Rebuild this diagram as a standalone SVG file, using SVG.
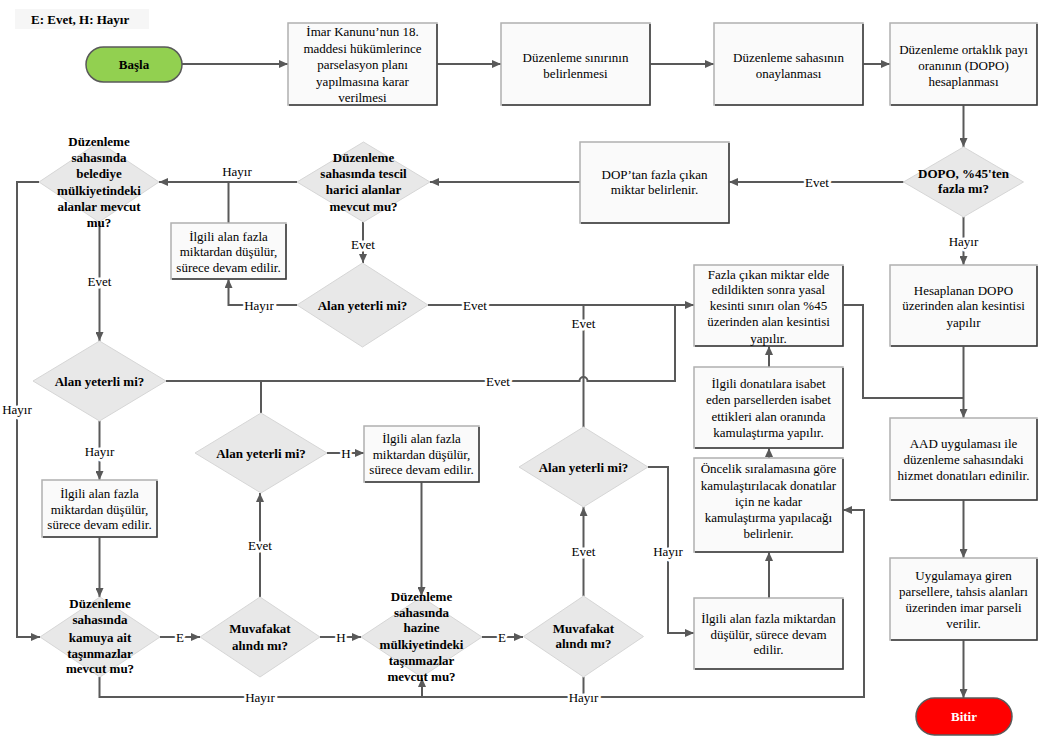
<svg xmlns="http://www.w3.org/2000/svg" width="1047" height="743" viewBox="0 0 1047 743">
<defs>
<marker id="ah" viewBox="0 0 9 8" refX="9" refY="4" markerWidth="9" markerHeight="8" markerUnits="userSpaceOnUse" orient="auto">
<path d="M0,0 L9,4 L0,8 z" fill="#595959"/>
</marker>
<style>
.box{fill:#fafafa;stroke:#b0b0b0;stroke-width:1.5}
.sh{fill:none;stroke:#3a3a3a;stroke-width:1.5}
.dia{fill:#e8e8e8;stroke:#d6d6d6;stroke-width:1}
.ln{fill:none;stroke:#595959;stroke-width:2}
.ar{marker-end:url(#ah)}
.t{font-family:"Liberation Serif","Times New Roman",serif;font-size:13px;fill:#000;text-anchor:middle}
.b{font-weight:bold}
.lbl{paint-order:stroke;stroke:#fff;stroke-width:5px;stroke-linejoin:round}
</style>
</defs>
<rect width="1047" height="743" fill="#fff"/>

<g id="legend">
<rect x="15" y="9" width="134" height="20" fill="#f6f6f6"/>
<text class="t b" x="31" y="24" style="text-anchor:start">E: Evet, H: Hayır</text>
</g>

<g id="connectors">
<path class="ln ar" d="M182 64 H288"/>
<path class="ln ar" d="M437 64 H501"/>
<path class="ln ar" d="M650 64 H714"/>
<path class="ln ar" d="M863 64 H890"/>
<path class="ln ar" d="M963.5 105 V147"/>
<path class="ln ar" d="M903.5 182 H729"/>
<path class="ln ar" d="M580 182 H430"/>
<path class="ln ar" d="M297 182 H159"/>
<path class="ln" d="M228.5 223 V182"/>
<path class="ln ar" d="M297 305 H228.5 V279"/>
<path class="ln ar" d="M363 222 V263"/>
<path class="ln ar" d="M428 305 H694"/>
<path class="ln" d="M583.5 427 V305"/>
<path class="ln" d="M166 381 H579.5 A4 4 0 0 1 587.5 381 H675 V305"/>
<path class="ln" d="M261 381 V413"/>
<path class="ln ar" d="M99.5 222 V341"/>
<path class="ln ar" d="M39 182 H17 V637 H40"/>
<path class="ln ar" d="M99.5 421 V480"/>
<path class="ln ar" d="M99.5 537 V597"/>
<path class="ln ar" d="M160 637 H200"/>
<path class="ln ar" d="M260 597 V493"/>
<path class="ln ar" d="M327 453 H364"/>
<path class="ln ar" d="M421.5 482 V596"/>
<path class="ln ar" d="M320 637 H361"/>
<path class="ln ar" d="M482 637 H523"/>
<path class="ln ar" d="M583.5 596 V507"/>
<path class="ln ar" d="M648 467 H668 V633 H694"/>
<path class="ln ar" d="M769 598 V552"/>
<path class="ln ar" d="M769 458 V448"/>
<path class="ln ar" d="M769 367 V346"/>
<path class="ln" d="M843 305 H863 V398 H963.5"/>
<path class="ln ar" d="M963.5 217 V265"/>
<path class="ln ar" d="M963.5 346 V418"/>
<path class="ln ar" d="M963.5 500 V558"/>
<path class="ln ar" d="M963.5 640 V698"/>
<path class="ln ar" d="M99.5 677 V697 H864 V510 H843"/>
<path class="ln ar" d="M422 697 V678"/>
<path class="ln" d="M583.5 677 V697"/>

<text class="t lbl" x="817" y="186.5">Evet</text>
<text class="t" x="237" y="176">Hayır</text>
<text class="t lbl" x="259" y="309.5">Hayır</text>
<text class="t lbl" x="363" y="248.5">Evet</text>
<text class="t lbl" x="475" y="309.5">Evet</text>
<text class="t lbl" x="583.5" y="327.5">Evet</text>
<text class="t lbl" x="498" y="385.5">Evet</text>
<text class="t lbl" x="99.5" y="285.5">Evet</text>
<text class="t lbl" x="17" y="413.5">Hayır</text>
<text class="t lbl" x="99.5" y="455.5">Hayır</text>
<text class="t lbl" x="180" y="641.5">E</text>
<text class="t lbl" x="260" y="549.5">Evet</text>
<text class="t lbl" x="346" y="457.5">H</text>
<text class="t lbl" x="341" y="641.5">H</text>
<text class="t lbl" x="502" y="641.5">E</text>
<text class="t lbl" x="583.5" y="556">Evet</text>
<text class="t lbl" x="668" y="556">Hayır</text>
<text class="t lbl" x="963.5" y="246">Hayır</text>
<text class="t lbl" x="260" y="701.5">Hayır</text>
<text class="t lbl" x="583.5" y="701.5">Hayır</text>
</g>

<g id="start">
<rect x="86" y="47" width="96" height="35" rx="17.5" fill="#92d050" stroke="#595959" stroke-width="1.5"/>
<text class="t b" x="134" y="69">Başla</text>
</g>

<g id="box1">
<rect class="box" x="288" y="23" width="149" height="82"/>
<path class="sh" d="M437 24 V105 H289"/>
<text class="t" x="362.5"><tspan x="362.5" y="36">İmar Kanunu’nun 18.</tspan><tspan x="362.5" y="52.5">maddesi hükümlerince</tspan><tspan x="362.5" y="69">parselasyon planı</tspan><tspan x="362.5" y="85.5">yapılmasına karar</tspan><tspan x="362.5" y="101.5">verilmesi</tspan></text>
</g>

<g id="box2">
<rect class="box" x="501" y="23" width="149" height="82"/>
<path class="sh" d="M650 24 V105 H502"/>
<text class="t"><tspan x="575.5" y="61.5">Düzenleme sınırının</tspan><tspan x="575.5" y="78">belirlenmesi</tspan></text>
</g>

<g id="box3">
<rect class="box" x="714" y="23" width="149" height="82"/>
<path class="sh" d="M863 24 V105 H715"/>
<text class="t"><tspan x="788.5" y="61.5">Düzenleme sahasının</tspan><tspan x="788.5" y="78">onaylanması</tspan></text>
</g>

<g id="box4">
<rect class="box" x="890" y="23" width="147" height="82"/>
<path class="sh" d="M1037 24 V105 H891"/>
<text class="t"><tspan x="963.5" y="54">Düzenleme ortaklık payı</tspan><tspan x="963.5" y="70">oranının (DOPO)</tspan><tspan x="963.5" y="86">hesaplanması</tspan></text>
</g>

<g id="dopo">
<polygon class="dia" points="963.5,147 1023.5,182 963.5,217 903.5,182"/>
<text class="t b"><tspan x="963.5" y="178">DOPO, %45'ten</tspan><tspan x="963.5" y="193">fazla mı?</tspan></text>
</g>

<g id="dop">
<rect class="box" x="580" y="142" width="149" height="81"/>
<path class="sh" d="M729 143 V223 H581"/>
<text class="t"><tspan x="654.5" y="179">DOP’tan fazla çıkan</tspan><tspan x="654.5" y="194">miktar belirlenir.</tspan></text>
</g>

<g id="tescil">
<polygon class="dia" points="363.5,142 430,182 363.5,222 297,182"/>
<text class="t b"><tspan x="363.5" y="161.5">Düzenleme</tspan><tspan x="363.5" y="177.5">sahasında tescil</tspan><tspan x="363.5" y="194">harici alanlar</tspan><tspan x="363.5" y="210.5">mevcut mu?</tspan></text>
</g>

<g id="belediye">
<polygon class="dia" points="99,142 159,182 99,222 39,182"/>
<text class="t b"><tspan x="99" y="145.5">Düzenleme</tspan><tspan x="99" y="161.5">sahasında</tspan><tspan x="99" y="178">belediye</tspan><tspan x="99" y="194.5">mülkiyetindeki</tspan><tspan x="99" y="210.5">alanlar mevcut</tspan><tspan x="99" y="226.5">mu?</tspan></text>
</g>

<g id="ilgili1">
<rect class="box" x="171" y="223" width="115" height="56"/>
<path class="sh" d="M286 224 V279 H172"/>
<text class="t"><tspan x="228.5" y="240.5">İlgili alan fazla</tspan><tspan x="228.5" y="256">miktardan düşülür,</tspan><tspan x="228.5" y="271.5">sürece devam edilir.</tspan></text>
</g>

<g id="alan2">
<polygon class="dia" points="362.5,263 428,305 362.5,347 297,305"/>
<text class="t b" x="362.5" y="309.5">Alan yeterli mi?</text>
</g>

<g id="fazla">
<rect class="box" x="694" y="265" width="149" height="81"/>
<path class="sh" d="M843 266 V346 H695"/>
<text class="t"><tspan x="768.5" y="278.5">Fazla çıkan miktar elde</tspan><tspan x="768.5" y="294">edildikten sonra yasal</tspan><tspan x="768.5" y="310">kesinti sınırı olan %45</tspan><tspan x="768.5" y="326">üzerinden alan kesintisi</tspan><tspan x="768.5" y="342.5">yapılır.</tspan></text>
</g>

<g id="hesaplanan">
<rect class="box" x="890" y="265" width="147" height="81"/>
<path class="sh" d="M1037 266 V346 H891"/>
<text class="t"><tspan x="963.5" y="294.5">Hesaplanan DOPO</tspan><tspan x="963.5" y="310">üzerinden alan kesintisi</tspan><tspan x="963.5" y="326.5">yapılır</tspan></text>
</g>

<g id="alan1">
<polygon class="dia" points="99.5,341 166,381 99.5,421 33,381"/>
<text class="t b" x="99.5" y="385.5">Alan yeterli mi?</text>
</g>

<g id="alan-mid">
<polygon class="dia" points="261,413 327,453 261,493 195,453"/>
<text class="t b" x="261" y="457.5">Alan yeterli mi?</text>
</g>

<g id="ilgili-mid">
<rect class="box" x="364" y="426" width="115" height="56"/>
<path class="sh" d="M479 427 V482 H365"/>
<text class="t"><tspan x="421.5" y="442.5">İlgili alan fazla</tspan><tspan x="421.5" y="458.5">miktardan düşülür,</tspan><tspan x="421.5" y="473.5">sürece devam edilir.</tspan></text>
</g>

<g id="ilgili-left">
<rect class="box" x="42" y="480" width="115" height="57"/>
<path class="sh" d="M157 481 V537 H43"/>
<text class="t"><tspan x="99.5" y="497.5">İlgili alan fazla</tspan><tspan x="99.5" y="513.5">miktardan düşülür,</tspan><tspan x="99.5" y="528.5">sürece devam edilir.</tspan></text>
</g>

<g id="donatilar">
<rect class="box" x="694" y="367" width="149" height="81"/>
<path class="sh" d="M843 368 V448 H695"/>
<text class="t"><tspan x="768.5" y="387.5">İlgili donatılara isabet</tspan><tspan x="768.5" y="404">eden parsellerden isabet</tspan><tspan x="768.5" y="420.5">ettikleri alan oranında</tspan><tspan x="768.5" y="436.5">kamulaştırma yapılır.</tspan></text>
</g>

<g id="oncelik">
<rect class="box" x="694" y="458" width="149" height="94"/>
<path class="sh" d="M843 459 V552 H695"/>
<text class="t"><tspan x="768.5" y="473">Öncelik sıralamasına göre</tspan><tspan x="768.5" y="489.5">kamulaştırılacak donatılar</tspan><tspan x="768.5" y="506">için ne kadar</tspan><tspan x="768.5" y="522">kamulaştırma yapılacağı</tspan><tspan x="768.5" y="538">belirlenir.</tspan></text>
</g>

<g id="aad">
<rect class="box" x="890" y="418" width="147" height="82"/>
<path class="sh" d="M1037 419 V500 H891"/>
<text class="t"><tspan x="963.5" y="447.5">AAD uygulaması ile</tspan><tspan x="963.5" y="463.5">düzenleme sahasındaki</tspan><tspan x="963.5" y="480">hizmet donatıları edinilir.</tspan></text>
</g>

<g id="alan3">
<polygon class="dia" points="583.5,427 648,467 583.5,507 519,467"/>
<text class="t b" x="583.5" y="471.5">Alan yeterli mi?</text>
</g>

<g id="muvafakat2">
<polygon class="dia" points="583.5,596 643.5,636.5 583.5,677 523.5,636.5"/>
<text class="t b"><tspan x="583.5" y="632.5">Muvafakat</tspan><tspan x="583.5" y="648">alındı mı?</tspan></text>
</g>

<g id="ilgili-br">
<rect class="box" x="694" y="598" width="149" height="71"/>
<path class="sh" d="M843 599 V669 H695"/>
<text class="t"><tspan x="768.5" y="622.5">İlgili alan fazla miktardan</tspan><tspan x="768.5" y="638.5">düşülür, sürece devam</tspan><tspan x="768.5" y="654">edilir.</tspan></text>
</g>

<g id="uygulama">
<rect class="box" x="890" y="558" width="147" height="82"/>
<path class="sh" d="M1037 559 V640 H891"/>
<text class="t"><tspan x="963.5" y="579.5">Uygulamaya giren</tspan><tspan x="963.5" y="596">parsellere, tahsis alanları</tspan><tspan x="963.5" y="612">üzerinden imar parseli</tspan><tspan x="963.5" y="627.5">verilir.</tspan></text>
</g>

<g id="end">
<rect x="916" y="698" width="96" height="37" rx="18.5" fill="#ff0000" stroke="#595959" stroke-width="1.5"/>
<text class="t b" x="964" y="721" style="fill:#fff">Bitir</text>
</g>

<g id="kamuya">
<polygon class="dia" points="100,597 160,637 100,677 40,637"/>
<text class="t b"><tspan x="100" y="607.5">Düzenleme</tspan><tspan x="100" y="624">sahasında</tspan><tspan x="100" y="641.5">kamuya ait</tspan><tspan x="100" y="657.5">taşınmazlar</tspan><tspan x="100" y="673">mevcut mu?</tspan></text>
</g>

<g id="muvafakat1">
<polygon class="dia" points="260,597 320,637 260,677 200,637"/>
<text class="t b"><tspan x="260" y="632.5">Muvafakat</tspan><tspan x="260" y="649.5">alındı mı?</tspan></text>
</g>

<g id="hazine">
<polygon class="dia" points="421.5,597 482,637 421.5,677 361,637"/>
<text class="t b"><tspan x="421.5" y="600.5">Düzenleme</tspan><tspan x="421.5" y="616.5">sahasında</tspan><tspan x="421.5" y="632">hazine</tspan><tspan x="421.5" y="648.5">mülkiyetindeki</tspan><tspan x="421.5" y="665">taşınmazlar</tspan><tspan x="421.5" y="681">mevcut mu?</tspan></text>
</g>
</svg>
